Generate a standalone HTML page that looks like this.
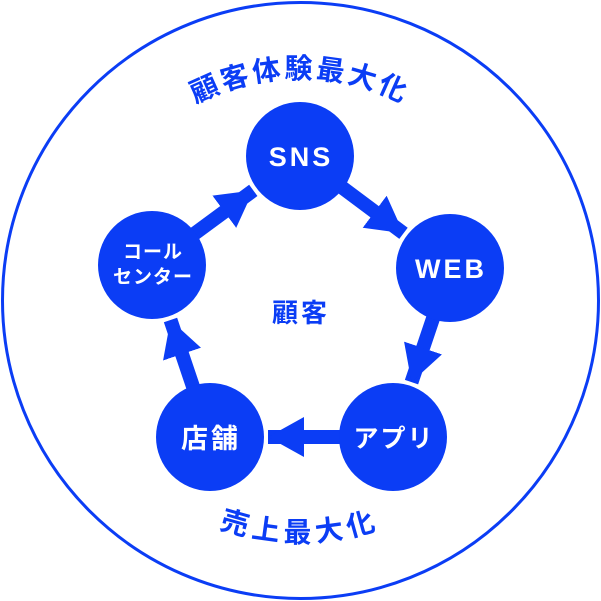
<!DOCTYPE html>
<html><head><meta charset="utf-8"><style>
html,body{margin:0;padding:0;background:#fff;}
svg{display:block;font-family:"Liberation Sans","Noto Sans CJK JP",sans-serif;font-weight:bold;}
</style></head><body>
<svg width="601" height="601" viewBox="0 0 601 601" xmlns="http://www.w3.org/2000/svg">
<defs>
<marker id="ah" viewBox="0 0 36 40" refX="36" refY="20" markerWidth="36" markerHeight="40" markerUnits="userSpaceOnUse" orient="auto">
<path d="M0,0 L36,20 L0,40 z" fill="#0b3df5"/>
</marker>
<path id="top" d="M 78,300 A 222 222 0 0 1 522,300"/>
<path id="bot" d="M 58,300 A 242 242 0 0 0 542,300"/>
</defs>
<circle cx="300.5" cy="300.5" r="298" fill="none" stroke="#0b3df5" stroke-width="3"/>
<text font-size="28" fill="#0b3df5" letter-spacing="3"><textPath href="#top" startOffset="50%" text-anchor="middle">顧客体験最大化</textPath></text>
<text font-size="28" fill="#0b3df5" letter-spacing="5"><textPath href="#bot" startOffset="50%" text-anchor="middle">売上最大化</textPath></text>
<g stroke="#0b3df5" stroke-width="14" marker-end="url(#ah)">
<line x1="152" y1="265" x2="253.3" y2="190.4"/>
<line x1="300" y1="156" x2="403.5" y2="233.3"/>
<line x1="450" y1="268" x2="411.5" y2="382.1"/>
<line x1="393" y1="437" x2="268" y2="437"/>
<line x1="210" y1="437" x2="170.5" y2="320"/>
</g>
<g fill="#0b3df5">
<circle cx="300" cy="156" r="54"/>
<circle cx="450" cy="268" r="54"/>
<circle cx="393" cy="437" r="54"/>
<circle cx="210" cy="437" r="54"/>
<circle cx="152" cy="265" r="54"/>
</g>
<g fill="#fff" text-anchor="middle">
<text x="301" y="166" font-size="27" letter-spacing="3">SNS</text>
<text x="451" y="278" font-size="27" letter-spacing="3">WEB</text>
<text x="394" y="447" font-size="25" letter-spacing="2">アプリ</text>
<text x="211" y="448" font-size="27" letter-spacing="3">店舗</text>
<text x="153" y="258" font-size="19" letter-spacing="1">コール</text>
<text x="153" y="283" font-size="19" letter-spacing="1">センター</text>
</g>
<text x="301" y="322" font-size="26" fill="#0b3df5" text-anchor="middle" letter-spacing="3">顧客</text>
</svg>
</body></html>
